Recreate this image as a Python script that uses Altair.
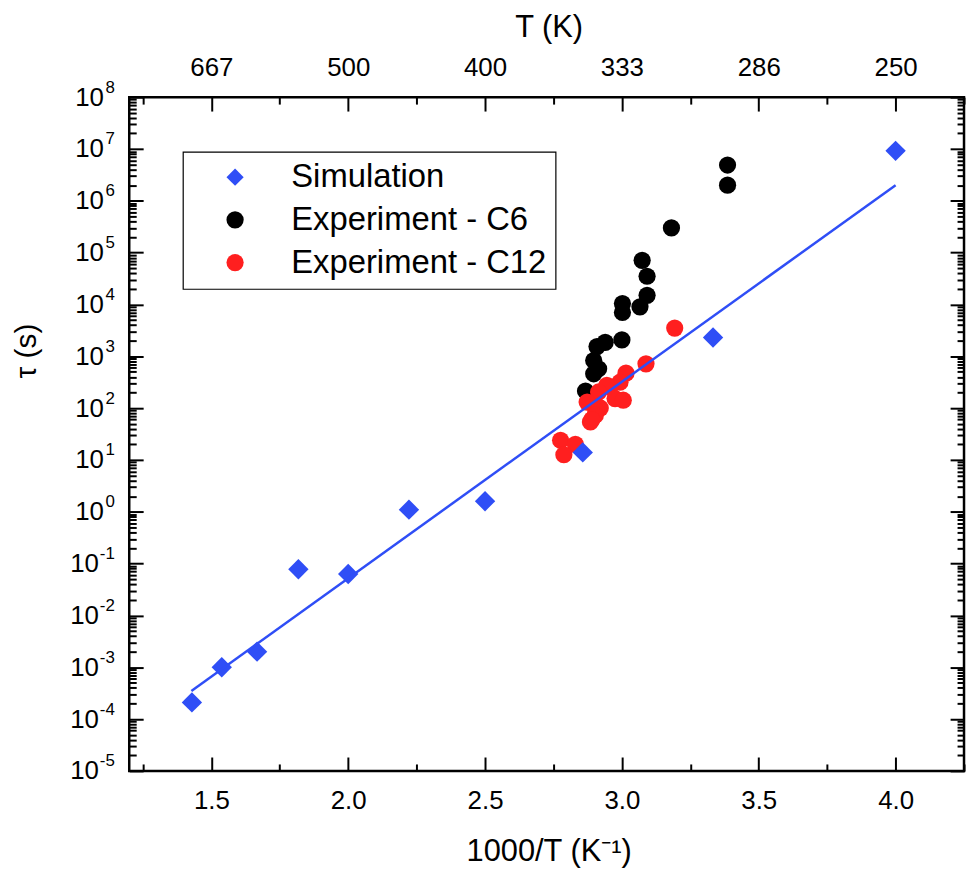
import altair as alt
import pandas as pd

# ---------------- data ----------------
sim_x = [1.429, 1.538, 1.667, 1.818, 2.0, 2.222, 2.5, 2.857, 3.333, 4.0]
sim_tau = [2.1e-4, 1.0e-3, 2.0e-3, 7.8e-2, 6.3e-2, 1.1, 1.6, 14, 2.3e3, 9.2e6]

c6_x = [3.386, 3.386, 3.181, 3.074, 3.092, 3.092, 3.066, 3.002, 3.002, 3.000,
        2.939, 2.909, 2.897, 2.915, 2.897, 2.867]
c6_tau = [4.9e6, 2.0e6, 3.0e5, 7.1e4, 3.5e4, 1.5e4, 9.0e3, 1.04e4, 7.0e3, 2.07e3,
          1.86e3, 1.54e3, 830, 575, 460, 214]

c12_x = [3.193, 3.088, 3.015, 2.993, 2.957, 2.945, 2.915, 2.873, 2.975, 3.005,
         2.915, 2.921, 2.905, 2.903, 2.885, 2.890, 2.776, 2.830, 2.788]
c12_tau = [3.5e3, 716, 473, 316, 257, 275, 205, 131, 153, 142,
           105, 100, 88, 73, 54, 60, 24, 20, 12.6]

fit_x = [1.427, 4.0]
fit_tau = [3.5e-4, 2.0e6]

series_names = ["Simulation", "Experiment - C6", "Experiment - C12"]
series_colors = ["#2f4ef6", "#000000", "#ff1f1f"]
series_shapes = ["diamond", "circle", "circle"]

x_major = [1.5, 2.0, 2.5, 3.0, 3.5, 4.0]
x_minor = [1.25, 1.75, 2.25, 2.75, 3.25, 3.75, 4.25]
y_major = [1e-5, 1e-4, 1e-3, 1e-2, 1e-1, 1e0, 1e1, 1e2, 1e3, 1e4, 1e5, 1e6, 1e7, 1e8]
y_minor = [k * 10.0 ** d for d in range(-5, 8) for k in range(2, 10)]

W, H = 840, 678
FONT = "Liberation Sans"

sim_df = pd.DataFrame({"x": sim_x, "tau": sim_tau, "series": series_names[0]})
c6_df = pd.DataFrame({"x": c6_x, "tau": c6_tau, "series": series_names[1]})
c12_df = pd.DataFrame({"x": c12_x, "tau": c12_tau, "series": series_names[2]})
fit_df = pd.DataFrame({"x": fit_x, "tau": fit_tau})

xscale = alt.Scale(domain=[1.2, 4.25], nice=False, zero=False)
yscale = alt.Scale(type="log", domain=[1e-5, 1e8], nice=False)
cscale = alt.Scale(domain=series_names, range=series_colors)
sscale = alt.Scale(domain=series_names, range=series_shapes)


def tick_axis(orient, offset, values, size):
    return alt.Axis(orient=orient, offset=offset, values=values, labels=False,
                    ticks=True, tickSize=size, tickWidth=2, tickColor="black",
                    domain=False, grid=False, title=None)


# label axes
x_bottom_labels = alt.Axis(orient="bottom", values=x_major, format=".1f",
                           labelFont=FONT, labelFontSize=26, labelColor="black",
                           labelPadding=17, ticks=False, domain=False, grid=False,
                           title="1000/T (K⁻¹)", titleFont=FONT, titleFontSize=31,
                           titleFontWeight="normal", titleColor="black",
                           titleX=422, titleY=90, titleAlign="center",
                           titleBaseline="alphabetic")
x_top_labels = alt.Axis(orient="top", values=x_major,
                        labelExpr="format(1000 / datum.value, '.0f')",
                        labelFont=FONT, labelFontSize=26, labelColor="black",
                        labelPadding=22, labelBaseline="alphabetic",
                        ticks=False, domain=False, grid=False,
                        title="T (K)", titleFont=FONT, titleFontSize=31,
                        titleFontWeight="normal", titleColor="black",
                        titleX=422, titleY=-61, titleAlign="center",
                        titleBaseline="alphabetic")
y_ten_labels = alt.Axis(orient="left", values=y_major, labelExpr="'10'",
                        labelFont=FONT, labelFontSize=26, labelColor="black",
                        labelAlign="right",
                        labelPadding={"condition": {"test": "datum.value < 1", "value": 31},
                                      "value": 26},
                        ticks=False, domain=False, grid=False,
                        title="τ (s)", titleFont=FONT, titleFontSize=30,
                        titleFontWeight="normal", titleColor="black",
                        titleAngle=270, titleX=-103, titleY=255,
                        titleAlign="center", titleBaseline="middle")
y_exp_labels = alt.Axis(orient="left", values=y_major,
                        labelExpr="'' + round(log(datum.value) / LN10)",
                        labelFont=FONT, labelFontSize=17, labelColor="black",
                        labelAlign="right", labelPadding=15, labelOffset=-10,
                        ticks=False, domain=False, grid=False, title=None)

# dummy layers carrying inward tick axes
d1 = alt.Chart(sim_df).mark_point(opacity=0).encode(
    x=alt.X("x:Q", scale=xscale, axis=tick_axis("bottom", -H, x_major, 14)),
    y=alt.Y("tau:Q", scale=yscale, axis=tick_axis("left", -W, y_major, 14)),
)
d2 = alt.Chart(sim_df).mark_point(opacity=0).encode(
    x=alt.X("x:Q", scale=xscale, axis=tick_axis("bottom", -H, x_minor, 7)),
    y=alt.Y("tau:Q", scale=yscale, axis=tick_axis("left", -W, y_minor, 7)),
)

c6 = alt.Chart(c6_df).mark_point(filled=True, size=300, opacity=1, strokeWidth=0).encode(
    x=alt.X("x:Q", scale=xscale, axis=tick_axis("top", -H, x_major, 14)),
    y=alt.Y("tau:Q", scale=yscale, axis=tick_axis("right", -W, y_major, 14)),
    color=alt.Color("series:N", scale=cscale, legend=alt.Legend(title=None)),
    shape=alt.Shape("series:N", scale=sscale, legend=alt.Legend(title=None)),
)
c12 = alt.Chart(c12_df).mark_point(filled=True, size=300, opacity=1, strokeWidth=0).encode(
    x=alt.X("x:Q", scale=xscale, axis=tick_axis("top", -H, x_minor, 7)),
    y=alt.Y("tau:Q", scale=yscale, axis=tick_axis("right", -W, y_minor, 7)),
    color=alt.Color("series:N", scale=cscale, legend=alt.Legend(title=None)),
    shape=alt.Shape("series:N", scale=sscale, legend=alt.Legend(title=None)),
)
sim = alt.Chart(sim_df).mark_point(filled=True, size=420, opacity=1, strokeWidth=0).encode(
    x=alt.X("x:Q", scale=xscale, axis=x_top_labels),
    y=alt.Y("tau:Q", scale=yscale, axis=y_exp_labels),
    color=alt.Color("series:N", scale=cscale, legend=alt.Legend(title=None)),
    shape=alt.Shape("series:N", scale=sscale, legend=alt.Legend(title=None)),
)
fit = alt.Chart(fit_df).mark_line(color="#2f4ef6", strokeWidth=2.5).encode(
    x=alt.X("x:Q", scale=xscale, axis=x_bottom_labels),
    y=alt.Y("tau:Q", scale=yscale, axis=y_ten_labels),
)

chart = (
    alt.layer(d1, d2, c6, c12, sim, fit)
    .resolve_axis(x="independent", y="independent")
    .properties(width=W, height=H,
                autosize=alt.AutoSizeParams(type="none"),
                padding={"left": 122, "top": 87, "right": 3, "bottom": 98})
    .configure_view(stroke="black", strokeWidth=2.5)
    .configure_legend(orient="none", legendX=54, legendY=55, padding=9,
                      strokeColor="black", strokeWidth=1.2, fillColor="white",
                      labelFont=FONT, labelFontSize=33, labelColor="black",
                      labelLimit=500, labelOffset=40, rowPadding=9,
                      symbolOffset=27, symbolSize=300, symbolStrokeWidth=0)
)

chart.save("out.html", embed_options={"renderer": "svg", "actions": False})
